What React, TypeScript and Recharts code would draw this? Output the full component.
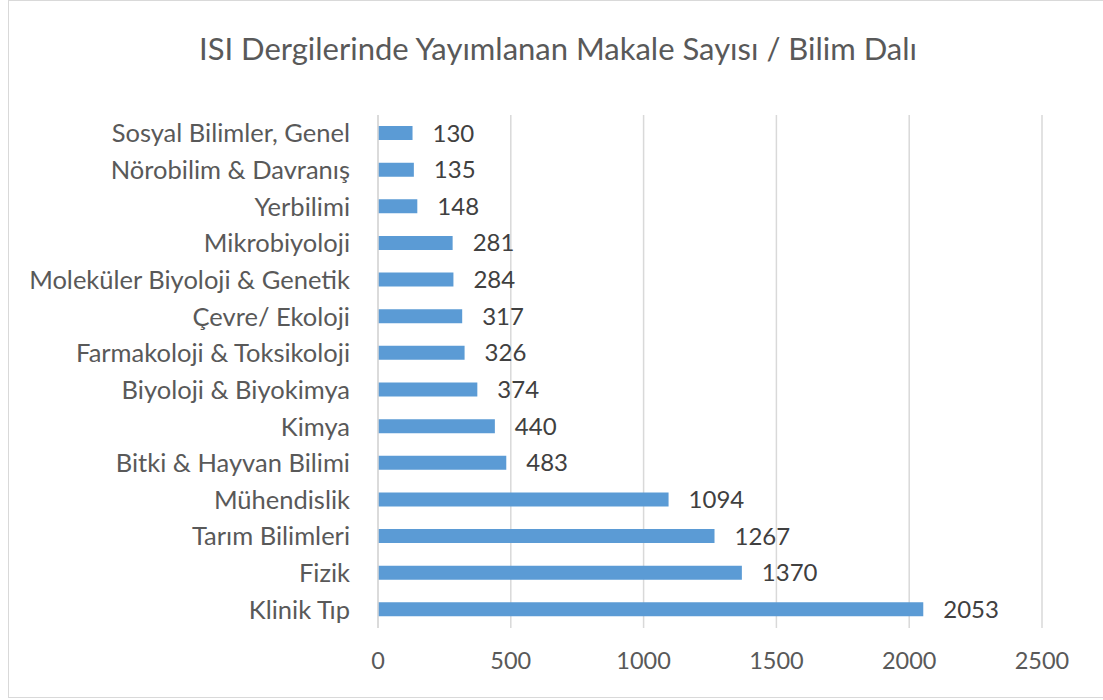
import React from 'react'
import { BarChart, Bar, XAxis, YAxis, CartesianGrid, LabelList } from 'recharts'

const categories = [
  'Sosyal Bilimler, Genel',
  'Nörobilim & Davranış',
  'Yerbilimi',
  'Mikrobiyoloji',
  'Moleküler Biyoloji & Genetik',
  'Çevre/ Ekoloji',
  'Farmakoloji & Toksikoloji',
  'Biyoloji & Biyokimya',
  'Kimya',
  'Bitki & Hayvan Bilimi',
  'Mühendislik',
  'Tarım Bilimleri',
  'Fizik',
  'Klinik Tıp',
]

const counts = [130, 135, 148, 281, 284, 317, 326, 374, 440, 483, 1094, 1267, 1370, 2053]

const xTicks = [0, 500, 1000, 1500, 2000, 2500]

const data = categories.map((name, i) => ({ name, count: counts[i] }))

const FONT = 'Lato, "Open Sans", sans-serif'

export default function App() {
  return (
    <div
      style={{
        position: 'absolute',
        left: 0,
        top: 0,
        width: 1103,
        height: 700,
        background: '#fff',
        fontFamily: FONT,
      }}
    >
      {/* chart frame: only the top, left and bottom edges show in the crop */}
      <div
        style={{
          position: 'absolute',
          left: 8,
          top: 0,
          width: 1103,
          height: 698,
          borderTop: '1px solid #d9d9d9',
          borderLeft: '1.5px solid #d9d9d9',
          borderBottom: '1.5px solid #d9d9d9',
          boxSizing: 'border-box',
        }}
      />
      <div
        style={{
          position: 'absolute',
          left: 0,
          top: 29,
          width: 1116,
          textAlign: 'center',
          fontSize: 31,
          color: '#595959',
        }}
      >
        ISI Dergilerinde Yayımlanan Makale Sayısı / Bilim Dalı
      </div>
      <div style={{ position: 'absolute', left: 0, top: 0 }}>
        <BarChart
          width={1103}
          height={700}
          data={data}
          layout="vertical"
          margin={{ top: 115, right: 61, bottom: 12, left: 0 }}
          barSize={14}
        >
          <CartesianGrid horizontal={false} stroke="#d9d9d9" strokeWidth={1.5} />
          <XAxis
            type="number"
            domain={[0, 2500]}
            ticks={xTicks}
            axisLine={false}
            tickLine={false}
            tickSize={0}
            tickMargin={24}
            height={60}
            tick={{ fill: '#595959', fontSize: 23.5, fontFamily: FONT }}
          />
          <YAxis
            type="category"
            dataKey="name"
            width={378}
            axisLine={{ stroke: '#d9d9d9', strokeWidth: 1.5 }}
            tickLine={false}
            tickSize={0}
            tickMargin={28}
            interval={0}
            tick={{ fill: '#595959', fontSize: 25.5, fontFamily: FONT }}
          />
          <Bar dataKey="count" fill="#5b9bd5" isAnimationActive={false}>
            <LabelList
              dataKey="count"
              position="right"
              offset={20}
              fill="#404040"
              fontSize={24}
              fontFamily={FONT}
            />
          </Bar>
        </BarChart>
      </div>
    </div>
  )
}
